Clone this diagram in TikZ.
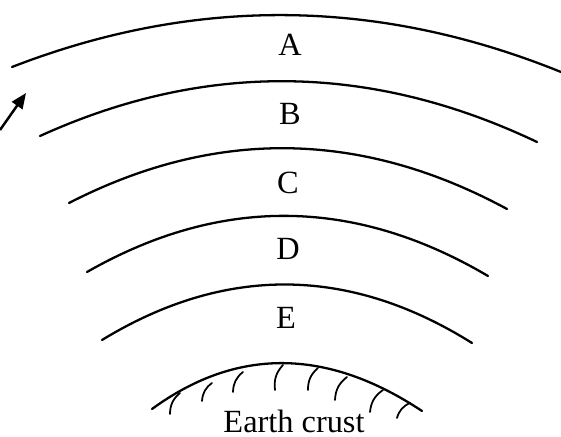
\documentclass[tikz,border=0pt]{standalone}
\usepackage{fontspec}
\setmainfont{Liberation Serif}
\usetikzlibrary{arrows.meta}

\begin{document}
\begin{tikzpicture}[
  x=0.01cm, y=-0.01cm,
  >={Triangle[length=4.4pt,width=3.6pt]},
  layer/.style={line width=0.65pt,line cap=round},
  hatch/.style={line width=0.5pt,line cap=round},
  lbl/.style={font=\fontsize{9.2}{11}\selectfont,inner sep=0pt},
]
  \useasboundingbox (0,0) rectangle (561,437);

  % layer boundaries
  \draw[layer] (12,67)   .. controls (195,-4)  and (378,-2)  .. (561,72);
  \draw[layer] (40,136)  .. controls (205,61)  and (371,63)  .. (537,142);
  \draw[layer] (69,203)  .. controls (215,128) and (361,130) .. (507,209);
  \draw[layer] (87,272)  .. controls (220,196) and (354,197) .. (488,276);
  \draw[layer] (102,340) .. controls (225,265) and (349,266) .. (472,343);

  % earth crust
  \draw[layer] (152,409) .. controls (237,347) and (327,348) .. (422,411);
  \draw[hatch] (180,393) to[bend right=25] (170,414);
  \draw[hatch] (212,383) to[bend right=25] (202,401);
  \draw[hatch] (243,372) to[bend right=25] (233,392);
  \draw[hatch] (283,365) to[bend right=25] (275,390);
  \draw[hatch] (318,368) to[bend right=25] (308,390);
  \draw[hatch] (347,377) to[bend right=25] (335,400);
  \draw[hatch] (383,390) to[bend right=25] (370,412);
  \draw[hatch] (410,403) to[bend right=25] (397,418);

  \node[lbl] (la) at (290,45)  {A};
  \node[lbl] (lb) at (290,114) {B};
  \node[lbl] (lc) at (288,183) {C};
  \node[lbl] (ld) at (288,249) {D};
  \node[lbl] (le) at (286,318) {E};
  \node[lbl] (crust) at (294,421) {Earth crust};

  \coordinate (tail) at (0,130);
  \coordinate (tip)  at (26,93);
  \draw[->,line width=0.7pt] (tail) -- (tip);
\end{tikzpicture}
\end{document}
